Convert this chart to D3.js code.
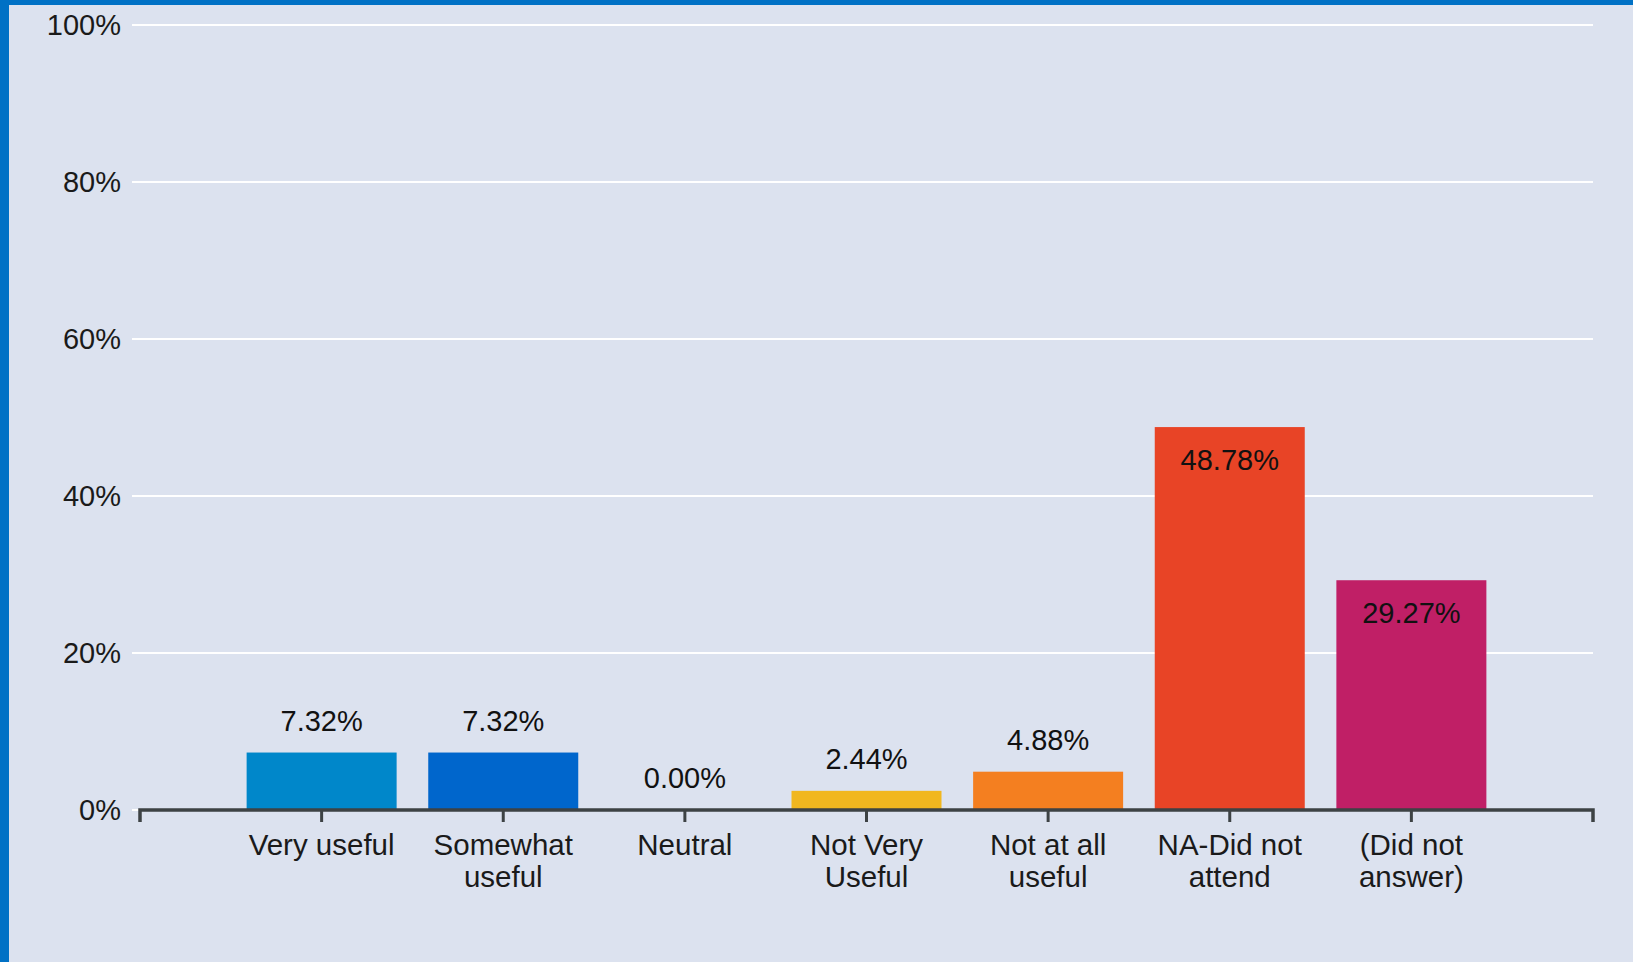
<!DOCTYPE html>
<html><head><meta charset="utf-8">
<script src="https://cdn.jsdelivr.net/npm/d3@7"></script>
<style>
html,body{margin:0;padding:0;background:#DCE2EF;overflow:hidden;}
svg{display:block;}
text{font-family:"Liberation Sans",Arial,sans-serif;}
</style></head>
<body>
<script>
const categories = ["Very useful","Somewhat useful","Neutral","Not Very Useful","Not at all useful","NA-Did not attend","(Did not answer)"];
const labelLines = [["Very useful"],["Somewhat","useful"],["Neutral"],["Not Very","Useful"],["Not at all","useful"],["NA-Did not","attend"],["(Did not","answer)"]];
const values = [7.32, 7.32, 0.00, 2.44, 4.88, 48.78, 29.27];
const colors = ["#0087CA","#0066CC","#CCCCCC","#F1B71F","#F47F20","#E84426","#C01F66"];
const yTicks = [0,20,40,60,80,100];

const W = 1633, H = 962;
const svg = d3.select("body").append("svg").attr("width", W).attr("height", H);
svg.append("rect").attr("width", W).attr("height", H).attr("fill", "#DCE2EF");
svg.append("rect").attr("x",0).attr("y",0).attr("width",9).attr("height",H).attr("fill","#0071C5");
svg.append("rect").attr("x",0).attr("y",0).attr("width",W).attr("height",5).attr("fill","#0071C5");

const x0 = 140, x1 = 1593;
const x = d3.scalePoint().domain(categories).range([x0, x1]).padding(1);
const y = d3.scaleLinear().domain([0,100]).range([810, 25]);
const barW = 150;

// gridlines
svg.append("g").selectAll("line").data(yTicks).join("line")
  .attr("x1", 132).attr("x2", x1).attr("y1", d=>y(d)).attr("y2", d=>y(d))
  .attr("stroke", "#FFFFFF").attr("stroke-width", 2);

// y labels
svg.append("g").selectAll("text").data(yTicks).join("text")
  .attr("x", 121).attr("y", d=>y(d)).attr("dy","0.36em")
  .attr("text-anchor","end").attr("font-size", 29).attr("fill","#1a1a1a")
  .text(d=>d+"%");

// bars
svg.append("g").selectAll("rect").data(values).join("rect")
  .attr("x", (d,i)=>x(categories[i]) - barW/2)
  .attr("width", barW)
  .attr("y", d=>y(d))
  .attr("height", d=>y(0)-y(d))
  .attr("fill", (d,i)=>colors[i]);

// value labels
svg.append("g").selectAll("text").data(values).join("text")
  .attr("x", (d,i)=>x(categories[i]))
  .attr("y", d=> d > 20 ? y(d) + 43 : y(d) - 22)
  .attr("text-anchor","middle").attr("font-size", 29).attr("fill","#111")
  .text(d=>d.toFixed(2)+"%");

// x axis
const ax = svg.append("g");
ax.append("path")
  .attr("d", `M${x0},822V810H${x1}V822`)
  .attr("fill","none").attr("stroke","#3d4244").attr("stroke-width",3.5);
ax.selectAll("line.tick").data(categories).join("line")
  .attr("class","tick")
  .attr("x1", d=>x(d)).attr("x2", d=>x(d)).attr("y1", 810).attr("y2", 822)
  .attr("stroke","#3d4244").attr("stroke-width",3);

const cl = svg.append("g").selectAll("text").data(categories).join("text")
  .attr("x", d=>x(d)).attr("y", 855)
  .attr("text-anchor","middle").attr("font-size", 29.5).attr("fill","#1a1a1a");
cl.each(function(d,i){
  const t = d3.select(this);
  labelLines[i].forEach((ln,j)=>{
    t.append("tspan").attr("x", x(d)).attr("dy", j===0?0:32).text(ln);
  });
});
</script>
</body></html>
